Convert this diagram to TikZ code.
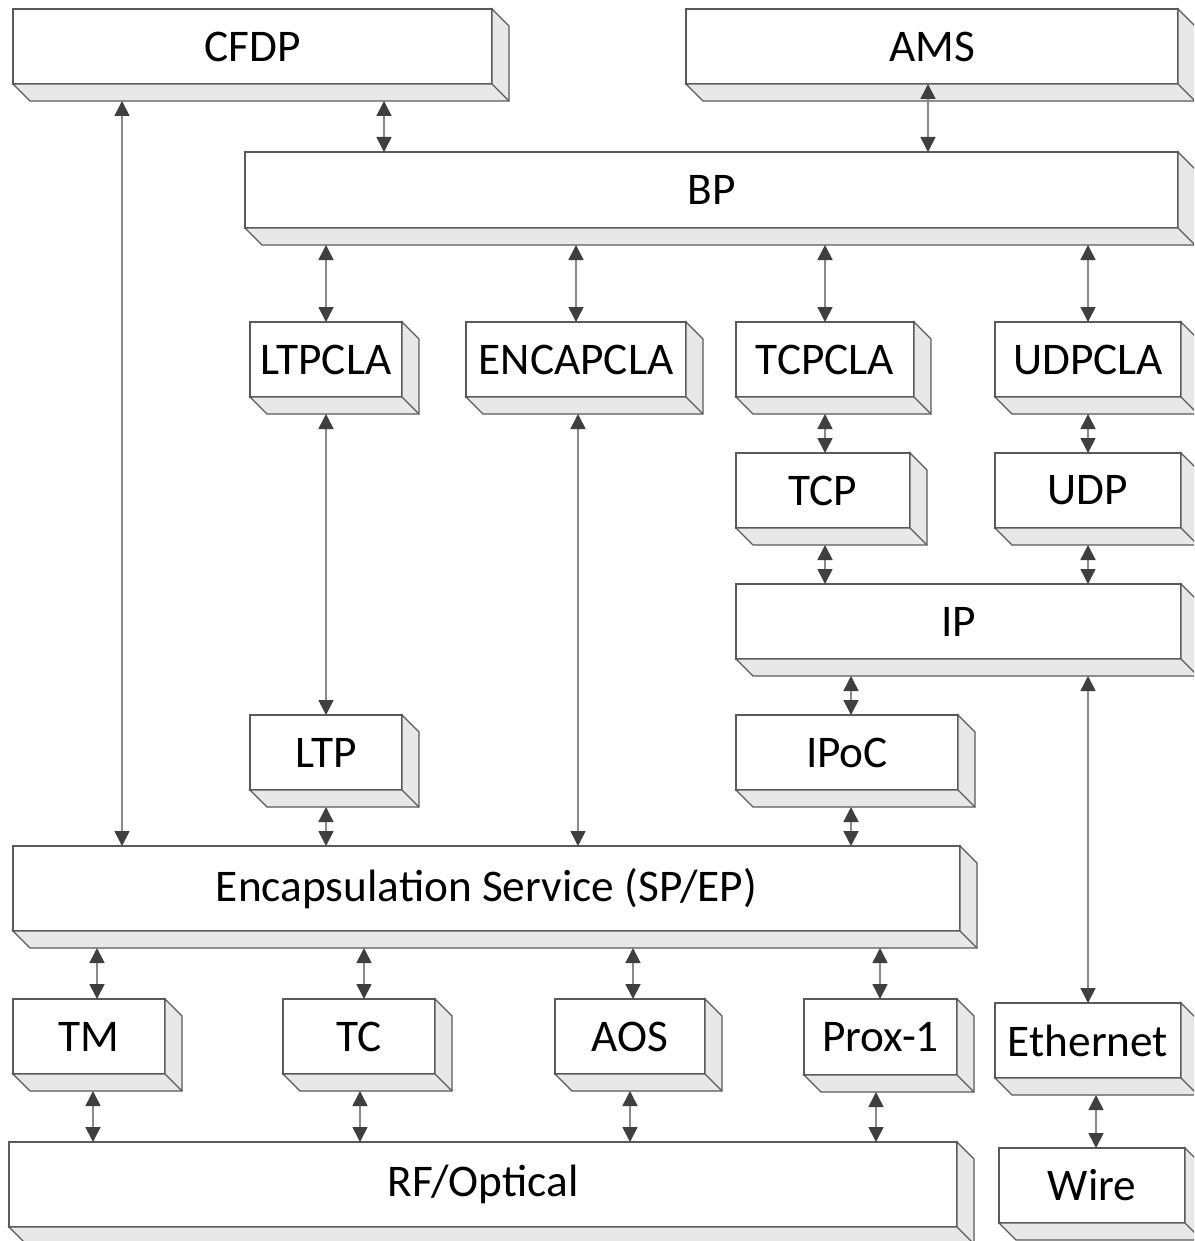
\documentclass[tikz,border=0pt]{standalone}
\usepackage{fontspec}
\setmainfont{Carlito}
\usetikzlibrary{arrows.meta,calc}
\definecolor{edge}{HTML}{5A5A5A}
\definecolor{sidefill}{HTML}{E8E8E8}
\definecolor{shaft}{HTML}{8A8A8A}
\definecolor{headc}{HTML}{3F3F3F}
\tikzset{
  lbox/.style={draw=edge,line width=1.3pt,fill=white,rectangle,inner sep=0pt,outer sep=0pt,
    font=\fontsize{45.3}{50}\selectfont},
  sideface/.style={draw=edge,line width=1.3pt,fill=sidefill,line join=miter},
  biarrow/.style={draw=shaft,line width=1.6pt,
    {Triangle[length=15pt,width=15pt,color=headc,fill=headc]}-{Triangle[length=15pt,width=15pt,color=headc,fill=headc]}},
}
\newcommand\layerbox[6]{%
  \node[lbox,minimum width={(#4-#2)*1pt},minimum height={(#5-#3)*1pt}] (#1) at ({(#2+#4)/2},{(#3+#5)/2}) {#6};
  \filldraw[sideface] (#1.south west) -- ++(17,17) -- ($(#1.south east)+(17,17)$) -- ($(#1.north east)+(17,17)$) -- (#1.north east) -- (#1.south east) -- cycle;
  \draw[edge,line width=1.3pt] (#1.south east) -- ++(17,17);
  \coordinate (#1b) at ($(#1.south)+(0,17)$);
}
\newcommand\conn[3]{\draw[biarrow] (#1,0 |- #2) -- (#1,0 |- #3);}
\begin{document}
\begin{tikzpicture}[x=1pt,y=-1pt]
\clip (0,0) rectangle (1194,1241);
\fill[white] (0,0) rectangle (1194,1241);
\layerbox{cfdp}{13}{9}{492}{84}{CFDP}
\layerbox{ams}{686}{9}{1178}{84}{AMS}
\layerbox{bp}{245}{152}{1178}{228}{BP}
\layerbox{ltpcla}{250}{322}{402}{397}{LTPCLA}
\layerbox{encapcla}{466}{322}{686}{397}{ENCAPCLA}
\layerbox{tcpcla}{736}{322}{914}{397}{TCPCLA}
\layerbox{udpcla}{995}{322}{1181}{397}{UDPCLA}
\layerbox{tcp}{736}{453}{910}{528}{TCP}
\layerbox{udp}{995}{453}{1181}{528}{UDP}
\layerbox{ip}{736}{584}{1181}{659}{IP}
\layerbox{ltp}{250}{715}{402}{790}{LTP}
\layerbox{ipoc}{736}{715}{958}{790}{IPoC}
\layerbox{encap}{13}{846}{960}{931}{Encapsulation Service (SP/EP)}
\layerbox{tm}{13}{999}{165}{1074}{TM}
\layerbox{tc}{283}{999}{435}{1074}{TC}
\layerbox{aos}{555}{999}{705}{1074}{AOS}
\layerbox{prox}{804}{999}{957}{1075}{Prox-1}
\layerbox{eth}{995}{1003}{1181}{1078}{Ethernet}
\layerbox{wire}{999}{1148}{1185}{1223}{Wire}
\layerbox{rf}{9}{1142}{957}{1227}{RF/Optical}
% connectors
\conn{122}{cfdpb}{encap.north}
\conn{384}{cfdpb}{bp.north}
\conn{928}{ams.south}{bp.north}
\conn{326}{bpb}{ltpcla.north}
\conn{576}{bpb}{encapcla.north}
\conn{825}{bpb}{tcpcla.north}
\conn{1088}{bpb}{udpcla.north}
\conn{326}{ltpclab}{ltp.north}
\conn{578}{encapclab}{encap.north}
\conn{825}{tcpclab}{tcp.north}
\conn{1088}{udpclab}{udp.north}
\conn{825}{tcpb}{ip.north}
\conn{1088}{udpb}{ip.north}
\conn{851}{ipb}{ipoc.north}
\conn{1088}{ipb}{eth.north}
\conn{326}{ltpb}{encap.north}
\conn{851}{ipocb}{encap.north}
\conn{97}{encapb}{tm.north}
\conn{364}{encapb}{tc.north}
\conn{633}{encapb}{aos.north}
\conn{880}{encapb}{prox.north}
\conn{93}{tmb}{rf.north}
\conn{360}{tcb}{rf.north}
\conn{630}{aosb}{rf.north}
\conn{876}{proxb}{rf.north}
\conn{1096}{ethb}{wire.north}
\end{tikzpicture}
\end{document}
